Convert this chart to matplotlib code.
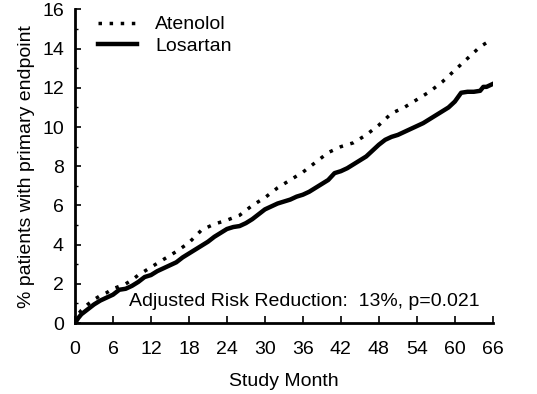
import matplotlib
matplotlib.use("Agg")
import matplotlib.pyplot as plt
from matplotlib.ticker import MultipleLocator

plt.rcParams["font.family"] = ["Liberation Sans", "DejaVu Sans"]

# Cumulative % with primary endpoint
atenolol_month = [0, 0.5, 1, 2, 3, 4, 5, 6, 8, 9, 10, 12, 14, 16, 18, 20, 22, 24, 26,
                  28, 30, 32, 34, 36, 38, 40, 42, 44, 46, 48, 50, 52, 54, 56, 58, 60,
                  62, 64, 65, 66]
atenolol_pct = [0, 0.45, 0.65, 0.95, 1.2, 1.4, 1.55, 1.75, 2.0, 2.2, 2.45, 2.85, 3.25,
                3.65, 4.1, 4.75, 5.05, 5.25, 5.5, 6.0, 6.4, 6.9, 7.3, 7.7, 8.2, 8.7,
                9.0, 9.2, 9.6, 10.1, 10.7, 11.0, 11.4, 11.8, 12.3, 12.9, 13.5, 14.1,
                14.3, 14.45]

losartan_month = [0, 0.5, 1, 2, 3, 4, 5, 6, 7, 8, 9, 10, 11, 12, 13, 14, 15, 16, 17,
                  18, 19, 20, 21, 22, 23, 24, 25, 26, 27, 28, 29, 30, 31, 32, 33, 34,
                  35, 36, 37, 38, 39, 40, 41, 42, 43, 44, 45, 46, 47, 48, 49, 50, 51,
                  52, 53, 54, 55, 56, 57, 58, 59, 60, 61, 62, 63, 64, 64.5, 65, 66]
losartan_pct = [0, 0.25, 0.45, 0.7, 0.95, 1.15, 1.3, 1.45, 1.7, 1.75, 1.9, 2.1, 2.35,
                2.45, 2.65, 2.8, 2.95, 3.1, 3.35, 3.55, 3.75, 3.95, 4.15, 4.4, 4.6,
                4.8, 4.9, 4.95, 5.1, 5.3, 5.55, 5.8, 5.95, 6.1, 6.2, 6.3, 6.45, 6.55,
                6.7, 6.9, 7.1, 7.3, 7.65, 7.75, 7.9, 8.1, 8.3, 8.5, 8.8, 9.1, 9.35,
                9.5, 9.6, 9.75, 9.9, 10.05, 10.2, 10.4, 10.6, 10.8, 11.0, 11.3, 11.75,
                11.8, 11.8, 11.85, 12.05, 12.05, 12.2]

x_ticks = list(range(0, 67, 6))
y_ticks = list(range(0, 17, 2))

fig = plt.figure(figsize=(5.37, 3.94), dpi=100)
ax = fig.add_axes([0.1397, 0.180, 0.778, 0.796])

ax.plot(atenolol_month, atenolol_pct, color="black", lw=2.5,
        linestyle=(0, (1, 2.2)), label="Atenolol")
ax.plot(losartan_month, losartan_pct, color="black", lw=3.2,
        solid_joinstyle="round", label="Losartan")

ax.set_xlim(0, 66)
ax.set_ylim(0, 16)
ax.set_xticks(x_ticks)
ax.set_yticks(y_ticks)
ax.yaxis.set_minor_locator(MultipleLocator(1))
ax.tick_params(axis="x", direction="in", length=5, width=1.2, labelsize=14, pad=13)
ax.tick_params(axis="y", which="major", direction="in", length=4, width=1.2,
               labelsize=14, pad=8)
ax.tick_params(axis="y", which="minor", direction="in", length=2.5, width=1.0)
for s in ("top", "right"):
    ax.spines[s].set_visible(False)
for s in ("left", "bottom"):
    ax.spines[s].set_linewidth(2)

ax.set_xlabel("Study Month", fontsize=14, labelpad=10.5)
ax.set_ylabel("% patients with primary endpoint", fontsize=14, labelpad=5)

ax.text(8.6, 1.1, "Adjusted Risk Reduction:  13%, p=0.021", fontsize=14,
        ha="left", va="center")

ax.legend(loc="upper left", bbox_to_anchor=(0.055, 0.98), frameon=False,
          borderpad=0, borderaxespad=0, fontsize=14, handlelength=2.0,
          handletextpad=0.95, labelspacing=0.2)

fig.savefig("out.png", dpi=100)
